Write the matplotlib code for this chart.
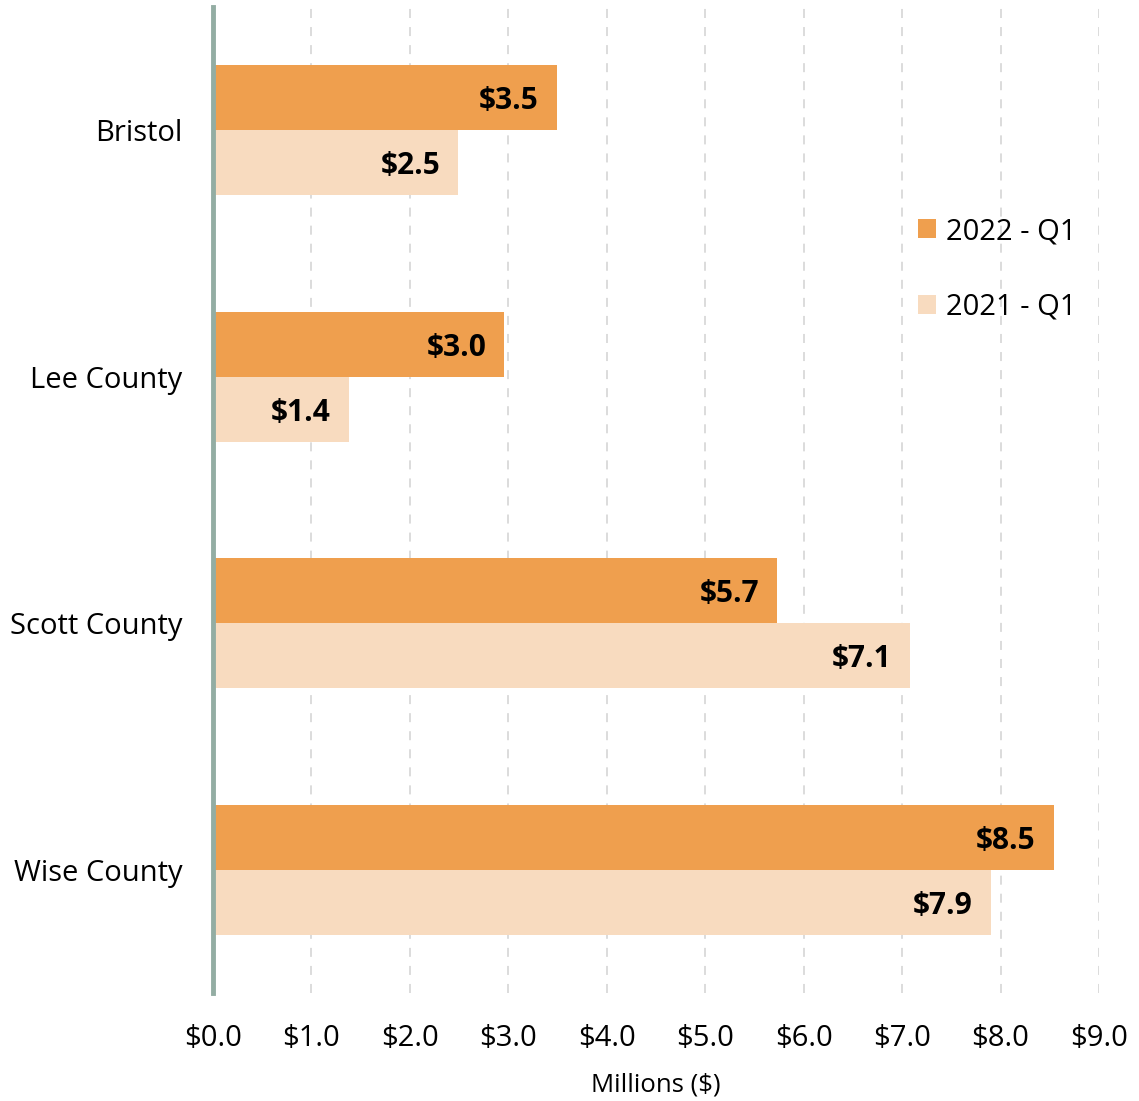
import numpy as np
import matplotlib.pyplot as plt

plt.rcParams['font.family'] = ['Open Sans', 'DejaVu Sans']

regions = ["Bristol", "Lee County", "Scott County", "Wise County"]
q1_2022 = [3.49, 2.96, 5.73, 8.54]
q1_2021 = [2.49, 1.38, 7.08, 7.90]
xticks = [0, 1, 2, 3, 4, 5, 6, 7, 8, 9]

c22 = '#EF9F4E'
c21 = '#F8DBBF'

fig = plt.figure(figsize=(11.39, 11.01), dpi=100)
ax = fig.add_axes([213/1139, 1-993/1101, 886/1139, 986/1101])

y = np.arange(len(regions))
h = 0.263
b1 = ax.barh(y - h/2, q1_2022, height=h, color=c22, label='2022 - Q1', zorder=2)
b2 = ax.barh(y + h/2, q1_2021, height=h, color=c21, label='2021 - Q1', zorder=2)

for bars, vals in [(b1, q1_2022), (b2, q1_2021)]:
    for bar, v in zip(bars, vals):
        ax.annotate("$%.1f" % v, (v, bar.get_y() + bar.get_height()/2),
                    xytext=(-13, -2.5), textcoords='offset points',
                    ha='right', va='center', fontsize=21.5, fontweight='bold',
                    color='black', zorder=3)

ax.set_xlim(0, 9)
ax.set_ylim(3.5, -0.5)
ax.set_xticks(xticks)
ax.set_xticklabels(["$%.1f" % t for t in xticks])
ax.set_yticks(y)
ax.set_yticklabels(regions)
ax.tick_params(axis='both', length=0, labelsize=21, colors='black')
ax.tick_params(axis='x', pad=22)
ax.tick_params(axis='y', pad=22)
ax.set_xlabel("Millions ($)", fontsize=18.5, labelpad=14)

for s in ['top', 'right', 'bottom']:
    ax.spines[s].set_visible(False)
ax.spines['left'].set_color('#93ADA3')
ax.spines['left'].set_linewidth(3.5)
ax.spines['left'].set_zorder(4)

ax.grid(axis='x', linestyle=(0, (5, 5)), color='#D9D9D9', linewidth=1.3, zorder=0)
ax.grid(axis='y', visible=False)

leg = fig.legend(loc='upper left', bbox_to_anchor=(918/1139, 1-217/1101),
                 frameon=False, fontsize=21, handlelength=0.62, handleheight=0.62,
                 handletextpad=0.35, labelspacing=1.6, borderpad=0, borderaxespad=0)

fig.savefig('out.png', dpi=100)
